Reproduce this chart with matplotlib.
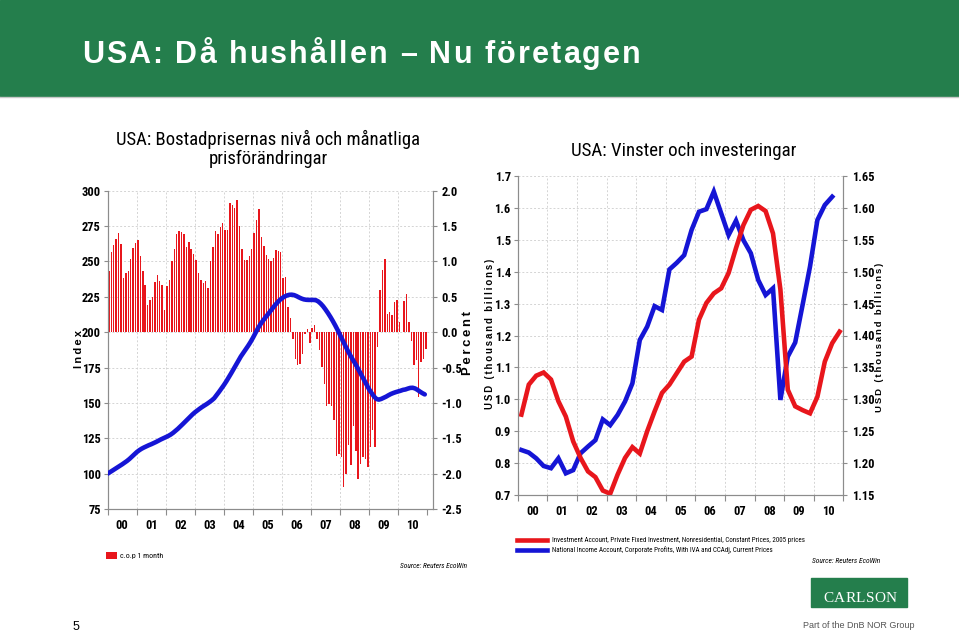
import matplotlib
matplotlib.use('Agg')
import matplotlib.pyplot as plt
from matplotlib import font_manager
from matplotlib.patches import Rectangle
from matplotlib.lines import Line2D
import numpy as np

# ---- data -------------------------------------------------------------
year_labels = ['00', '01', '02', '03', '04', '05', '06', '07', '08', '09', '10']

# monthly change in house prices, percent (Jan 2000 - Dec 2010)
hpi_change = [
    0.87, 1.13, 1.23, 1.32, 1.40, 1.25, 0.77, 0.83, 0.87, 1.03, 1.19, 1.26,
    1.31, 1.08, 0.87, 0.66, 0.38, 0.46, 0.50, 0.71, 0.81, 0.72, 0.66, 0.32,
    0.65, 0.74, 1.00, 1.18, 1.39, 1.43, 1.42, 1.39, 1.20, 1.27, 1.17, 1.11,
    1.02, 0.83, 0.74, 0.69, 0.72, 0.63, 1.00, 1.21, 1.43, 1.39, 1.49, 1.55,
    1.45, 1.45, 1.82, 1.80, 1.76, 1.87, 1.50, 1.17, 1.02, 1.02, 1.08, 1.18,
    1.40, 1.58, 1.74, 1.35, 1.22, 1.09, 1.04, 1.00, 1.05, 1.16, 1.15, 1.13,
    0.76, 0.78, 0.36, 0.20, -0.09, -0.38, -0.47, -0.45, -0.31, -0.03, 0.05, -0.16,
    0.06, 0.10, -0.09, -0.25, -0.49, -0.73, -1.04, -1.01, -1.04, -1.24, -1.75, -1.72,
    -1.77, -2.19, -2.00, -1.60, -1.88, -1.32, -1.68, -2.07, -1.87, -1.76, -1.79, -1.91,
    -1.62, -1.39, -1.63, -0.21, 0.59, 0.88, 1.03, 0.26, 0.28, 0.24, 0.42, 0.46,
    0.14, 0.00, 0.44, 0.54, 0.14, -0.12, -0.47, -0.40, -0.92, -0.42, -0.38, -0.24,
]

# house price index level (Jan 2000 = 100)
hpi_level = [
    100.0, 101.1, 102.2, 103.3, 104.4, 105.5, 106.6, 107.8, 109.0, 110.4, 112.0, 113.6,
    115.2, 116.5, 117.6, 118.5, 119.3, 120.1, 120.8, 121.6, 122.4, 123.3, 124.2, 125.0,
    125.8, 126.6, 127.6, 128.8, 130.2, 131.7, 133.3, 135.0, 136.7, 138.4, 140.1, 141.8,
    143.3, 144.6, 145.9, 147.1, 148.2, 149.3, 150.5, 151.8, 153.3, 155.5, 157.8, 160.2,
    162.6, 165.2, 168.0, 170.9, 173.9, 177.0, 180.0, 182.8, 185.3, 187.7, 190.3, 193.0,
    196.0, 199.3, 202.5, 205.3, 207.8, 210.0, 212.2, 214.4, 216.6, 218.8, 220.8, 222.6,
    224.0, 225.1, 225.9, 226.4, 226.5, 226.2, 225.5, 224.6, 223.8, 223.2, 222.9, 222.8,
    222.8, 222.8, 222.6, 221.7, 220.2, 218.3, 216.0, 213.5, 210.8, 207.9, 204.8, 201.5,
    198.0, 194.5, 191.0, 187.5, 184.3, 181.3, 178.5, 175.5, 172.3, 169.0, 165.8, 162.7,
    159.6, 157.0, 154.6, 152.8, 152.3, 152.8, 153.6, 154.4, 155.4, 156.3, 157.0, 157.6,
    158.1, 158.6, 159.2, 159.5, 160.1, 160.6, 160.7, 160.2, 159.2, 158.0, 156.9, 156.0,
]

# quarterly, USD thousand billions
investment = [  # 2000Q1 - 2010Q4, right axis
    1.276, 1.323, 1.337, 1.342, 1.331, 1.297, 1.273, 1.234,
    1.208, 1.187, 1.178, 1.157, 1.152, 1.182, 1.208, 1.225,
    1.215, 1.250, 1.281, 1.310, 1.323, 1.341, 1.359, 1.367,
    1.425, 1.451, 1.466, 1.474, 1.498, 1.537, 1.573, 1.597,
    1.603, 1.595, 1.560, 1.472, 1.315, 1.289, 1.283, 1.278,
    1.304, 1.359, 1.388, 1.406,
]
profits = [  # 2000Q1 - 2010Q3, left axis
    0.841, 0.833, 0.815, 0.791, 0.784, 0.815, 0.768, 0.778,
    0.831, 0.852, 0.872, 0.937, 0.919, 0.951, 0.993, 1.050,
    1.186, 1.228, 1.292, 1.280, 1.407, 1.428, 1.452, 1.531,
    1.588, 1.596, 1.651, 1.583, 1.515, 1.560, 1.499, 1.458,
    1.374, 1.327, 1.348, 0.998, 1.134, 1.178, 1.296, 1.416,
    1.562, 1.609, 1.635,
]

inv_label = 'Investment Account, Private Fixed Investment, Nonresidential, Constant Prices, 2005 prices'
prof_label = 'National Income Account, Corporate Profits, With IVA and CCAdj, Current Prices'

# ---- fonts / style ------------------------------------------------------
names = {f.name for f in font_manager.fontManager.ttflist}
NARROW = 'Liberation Sans'
for cand in ['Liberation Sans Narrow', 'Arial Narrow', 'Roboto Condensed',
             'PT Sans Narrow', 'Archivo Narrow', 'Barlow Semi Condensed']:
    if cand in names:
        NARROW = cand
        break
plt.rcParams['font.family'] = [NARROW, 'DejaVu Sans']
WIDE = ['Liberation Sans', 'DejaVu Sans']

GREEN = '#247e4c'
RED = '#e8161c'
BLUE = '#1515d5'
GREY = '#8c8c8c'
W, H = 959, 635
TICK = 9

fig = plt.figure(figsize=(W / 100, H / 100), dpi=100)
rend = fig.canvas.get_renderer()


def fx(px):
    return px / W


def fy(py):
    return 1 - py / H


def fit(t, px, vertical=False):
    e = t.get_window_extent(rend)
    w = e.height if vertical else e.width
    t.set_fontsize(t.get_fontsize() * px / w)
    return t


def size_for(s, px, **kw):
    t = fig.text(0, 0, s, fontsize=10, **kw)
    w = t.get_window_extent(rend).width
    t.remove()
    return 10 * px / w


def spaced(x, y, s, length, **kw):
    def width(txt):
        t = fig.text(0, 0, txt, **kw)
        e = t.get_window_extent(rend).width
        t.remove()
        return e
    base = width('||')
    adv = [width('|' + c + '|') - base for c in s]
    natural = sum(adv[:-1]) + width(s[-1])
    track = (length - natural) / (len(s) - 1)
    pos = 0
    for c, a in zip(s, adv):
        fig.text(fx(x + pos), fy(y), c, ha='left', va='baseline', **kw)
        pos += a + track


# header band
fig.add_artist(Rectangle((0, fy(96)), 1, 96 / H, transform=fig.transFigure,
                         color=GREEN, zorder=0))
fig.add_artist(Line2D([0, 1], [fy(97), fy(97)], transform=fig.transFigure,
                      color='#c8c8c8', lw=1))
spaced(82, 63, 'USA: Då hushållen – Nu företagen', 558,
       color='white', fontsize=22, fontweight='bold', family=WIDE)


def style_axes(ax, axr, xmax):
    for a in (ax, axr):
        a.spines['top'].set_visible(False)
        for sp in ('left', 'right', 'bottom'):
            a.spines[sp].set_color(GREY)
    ax.set_xlim(2000, xmax)
    ax.set_xticks(np.arange(2000, 2012))
    ax.set_xticklabels([])
    ax.set_xticks(np.arange(2000.5, 2011, 1.0), minor=True)
    ax.set_xticklabels(year_labels, minor=True)
    ax.tick_params(axis='x', which='major', length=4, color=GREY)
    ax.tick_params(axis='x', which='minor', length=0, pad=7, labelsize=TICK)
    ax.tick_params(axis='y', length=3, color=GREY, pad=2, labelsize=TICK)
    axr.tick_params(axis='y', length=3, color=GREY, pad=3, labelsize=TICK)
    for lab in ax.get_xticklabels(minor=True) + ax.get_yticklabels() + axr.get_yticklabels():
        lab.set_fontweight('bold')


def vlabel(x, y, s, length):
    t = fig.text(fx(x), fy(y), '\u2009'.join(s), rotation=90, ha='center', va='center',
                 fontsize=8, fontweight='bold', family=WIDE)
    fit(t, length, vertical=True)


# ---- left chart: house prices -------------------------------------------
ax1 = fig.add_axes([fx(107.7), fy(509), fx(433) - fx(107.7), (509 - 190.7) / H])
ax1r = ax1.twinx()
months = 2000 + (np.arange(len(hpi_change)) + 0.5) / 12
bars = ax1r.bar(months, hpi_change, width=0.6 / 12, color=RED, linewidth=0, zorder=2)
ax1.plot(2000 + np.arange(len(hpi_level)) / 12, hpi_level, color=BLUE, lw=3.3,
         solid_capstyle='round', zorder=3)
ax1.set_zorder(ax1r.get_zorder() + 1)
ax1.patch.set_visible(False)
ax1r.patch.set_visible(True)
ax1r.patch.set_facecolor('white')
ax1.set_ylim(75, 300)
ax1.set_yticks(np.arange(75, 301, 25))
ax1r.set_ylim(-2.5, 2.0)
ax1r.set_yticks(np.arange(-2.5, 2.01, 0.5))
ax1r.set_yticklabels(['%.1f' % v for v in np.arange(-2.5, 2.01, 0.5)])
ax1r.set_axisbelow(True)
ax1r.grid(axis='y', color='#d4d4d4', ls=(0, (2, 2)), lw=0.7)
for yr in range(2001, 2011):
    ax1r.axvline(yr, color='#d4d4d4', ls=(0, (2, 2)), lw=0.7, zorder=0)
style_axes(ax1, ax1r, 2011.2)

t = fig.text(fx(268), fy(149), 'USA: Bostadprisernas nivå och månatliga\nprisförändringar',
             ha='center', va='center', fontsize=15, linespacing=1.05)
fit(t, 305)
vlabel(79, 349, 'Index', 38)
vlabel(468, 343, 'Percent', 64)

leg1 = fig.legend(handles=[bars], labels=['c.o.p 1 month'], loc='upper left',
                  bbox_to_anchor=(fx(106), fy(552)), frameon=False,
                  fontsize=size_for('c.o.p 1 month', 43),
                  handlelength=1.4, handleheight=0.9, handletextpad=0.35,
                  borderpad=0, borderaxespad=0)
fig.text(fx(467), fy(566), 'Source: Reuters EcoWin', ha='right', va='center',
         fontsize=size_for('Source: Reuters EcoWin', 67, style='italic'), style='italic')

# ---- right chart: profits and investment ---------------------------------
ax2 = fig.add_axes([fx(517.7), fy(495), fx(843.3) - fx(517.7), (495 - 176) / H])
ax2r = ax2.twinx()
q_prof = 2000 + (np.arange(len(profits)) + 0.5) / 4
q_inv = 2000 + (np.arange(len(investment)) + 0.5) / 4
l_prof, = ax2.plot(q_prof, profits, color=BLUE, lw=3.3, solid_joinstyle='miter')
l_inv, = ax2r.plot(q_inv, investment, color=RED, lw=3.3, solid_joinstyle='miter')
ax2.set_ylim(0.7, 1.7)
ax2.set_yticks(np.arange(0.7, 1.71, 0.1))
ax2.set_yticklabels(['%.1f' % v for v in np.arange(0.7, 1.71, 0.1)])
ax2r.set_ylim(1.15, 1.65)
ax2r.set_yticks(np.arange(1.15, 1.651, 0.05))
ax2r.set_yticklabels(['%.2f' % v for v in np.arange(1.15, 1.651, 0.05)])
ax2.set_axisbelow(True)
ax2.grid(color='#d4d4d4', ls=(0, (2, 2)), lw=0.7)
style_axes(ax2, ax2r, 2010.94)

t = fig.text(fx(684), fy(151), 'USA: Vinster och investeringar', ha='center',
             va='center', fontsize=15)
fit(t, 226)
vlabel(490, 334, 'USD (thousand billions)', 152)
vlabel(879, 337, 'USD (thousand billions)', 150)

leg2 = fig.legend(handles=[l_inv, l_prof], labels=[inv_label, prof_label],
                  loc='upper left', bbox_to_anchor=(fx(517), fy(537)), frameon=False,
                  fontsize=size_for(inv_label, 251),
                  handlelength=4.2, handletextpad=0.7, labelspacing=0.35,
                  borderpad=0, borderaxespad=0)
fig.text(fx(812), fy(561), 'Source: Reuters EcoWin', ha='left', va='center',
         fontsize=size_for('Source: Reuters EcoWin', 68, style='italic'), style='italic')

# ---- footer -------------------------------------------------------------
fig.text(fx(76), fy(627), '5', ha='center', va='center', fontsize=9, family=WIDE)
fig.add_artist(Rectangle((fx(811), fy(607)), (907 - 811) / W, (607 - 578) / H,
                         transform=fig.transFigure, color=GREEN, zorder=0))
spaced(823, 602, 'CARLSON', 74, color='white', fontsize=11,
       family=['Liberation Serif', 'DejaVu Serif'])
t = fig.text(fx(859), fy(626), 'Part of the DnB NOR Group', ha='center', va='center',
             fontsize=7, color='#555555', family=WIDE)
fit(t, 111)

fig.savefig('out.png', dpi=100)
